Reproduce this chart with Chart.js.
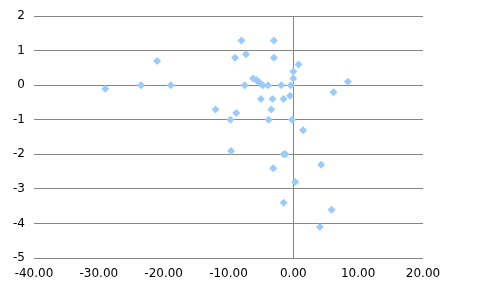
<!DOCTYPE html>
<html>
<head>
<meta charset="utf-8">
<script src="https://cdn.jsdelivr.net/npm/chart.js@4"></script>
<style>
  html, body { margin: 0; padding: 0; background: #fff; }
  #wrap { width: 484px; height: 292px; }
</style>
</head>
<body>
<div id="wrap"><canvas id="myChart"></canvas></div>
<script>
// values
const xValues = [-29, -23.5, -21, -18.9, -8, -3, -9, -7.3, -3, 0.8, 0, 0,
  -6.2, -5.7, -5.4, -5.1, -7.5, -4.7, -3.9, -1.85, -0.4, 8.4, 6.2,
  -5, -3.2, -1.5, -0.5, -12, -3.4, -8.8, -9.7, -3.8, -0.2, 1.5,
  25.5, -9.6, -1.5, -1.2, -3.1, 4.3, 0.3, -1.5, 5.9, 4.1];
const yValues = [-0.1, 0, 0.7, 0, 1.3, 1.3, 0.8, 0.9, 0.8, 0.6, 0.4, 0.2,
  0.2, 0.15, 0.1, 0.05, 0, 0, 0, 0, 0, 0.1, -0.2,
  -0.4, -0.4, -0.4, -0.3, -0.7, -0.7, -0.8, -1, -1, -1, -1.3,
  -1.8, -1.9, -2, -2, -2.4, -2.3, -2.8, -3.4, -3.6, -4.1];
const xTicks = ['-40.00', '-30.00', '-20.00', '-10.00', '0.00', '10.00', '20.00'];
const yTicks = ['-5', '-4', '-3', '-2', '-1', '0', '1', '2'];

const points = xValues.map((x, i) => ({x: x, y: yValues[i]}));
const gridGray = '#868686';

new Chart(document.getElementById('myChart'), {
  type: 'scatter',
  data: {
    datasets: [{
      data: points,
      pointStyle: 'rectRot',
      pointRadius: 4,
      pointHoverRadius: 4,
      backgroundColor: '#9acbfa',
      borderColor: '#9acbfa',
      borderWidth: 0,
      clip: false
    }]
  },
  options: {
    responsive: true,
    maintainAspectRatio: false,
    animation: false,
    layout: { padding: { top: 16, right: 61, left: 0, bottom: 0 } },
    plugins: { legend: { display: false }, tooltip: { enabled: false } },
    scales: {
      x: {
        type: 'linear',
        min: -40, max: 20,
        afterBuildTicks: (s) => { s.ticks = xTicks.map(t => ({value: parseFloat(t)})); },
        afterFit: (s) => { s.height = 34; },
        border: { display: false },
        grid: {
          drawTicks: false,
          color: (c) => c.tick && c.tick.value === 0 ? gridGray : 'rgba(0,0,0,0)',
          lineWidth: 1
        },
        ticks: {
          padding: 9,
          color: '#000',
          font: { family: 'DejaVu Sans', size: 12 },
          maxRotation: 0,
          callback: (v, i) => xTicks[i]
        }
      },
      y: {
        type: 'linear',
        min: -5, max: 2,
        afterBuildTicks: (s) => { s.ticks = yTicks.map(t => ({value: parseFloat(t)})); },
        afterFit: (s) => { s.width = 34; },
        border: { display: false },
        grid: { drawTicks: false, color: gridGray, lineWidth: 1 },
        ticks: {
          padding: 9,
          color: '#000',
          font: { family: 'DejaVu Sans', size: 12 },
          callback: (v, i) => yTicks[i]
        }
      }
    }
  }
});
</script>
</body>
</html>
